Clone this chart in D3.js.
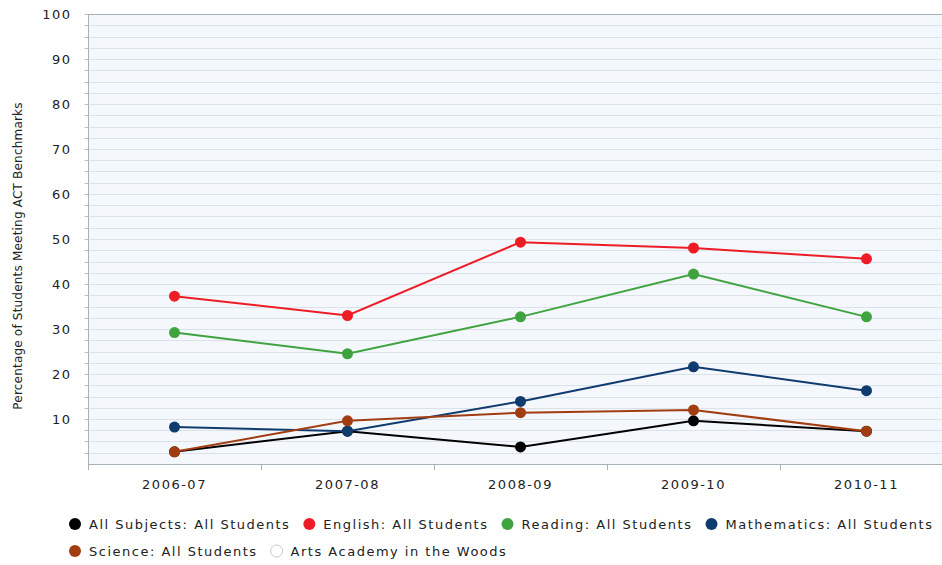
<!DOCTYPE html>
<html>
<head>
<meta charset="utf-8">
<script src="https://cdn.jsdelivr.net/npm/d3@7/dist/d3.min.js"></script>
<style>
  html, body { margin: 0; padding: 0; background: #ffffff; }
  svg { display: block; font-family: "DejaVu Sans", Verdana, sans-serif; }
</style>
</head>
<body>
<svg id="chart" width="942" height="565"></svg>
<script>
// School years on the x axis
const years = ["2006-07", "2007-08", "2008-09", "2009-10", "2010-11"];

// Percentage of students meeting ACT benchmarks, per subject
const allSubjects = [2.7, 7.3, 3.8, 9.6, 7.3];
const english     = [37.3, 33.0, 49.3, 48.0, 45.6];
const reading     = [29.2, 24.5, 32.7, 42.2, 32.7];
const mathematics = [8.2, 7.3, 13.9, 21.6, 16.3];
const science     = [2.7, 9.6, 11.4, 12.0, 7.3];

const seriesNames  = ["All Subjects: All Students", "English: All Students", "Reading: All Students", "Mathematics: All Students", "Science: All Students"];
const seriesColors = ["#000000", "#ee1c25", "#3fa33f", "#0f3b6e", "#a23d12"];
const seriesValues = [allSubjects, english, reading, mathematics, science];

// Extra legend entry for the school (no data plotted)
const schoolName = "Arts Academy in the Woods";

const yTicks = [10, 20, 30, 40, 50, 60, 70, 80, 90, 100];
const yTitle = "Percentage of Students Meeting ACT Benchmarks";

const svg = d3.select("#chart");
const plot = { left: 88, right: 953, top: 14, bottom: 464 };
const labelSpacing = 1.5;

const x = d3.scaleBand().domain(years).range([plot.left, plot.right]);
const y = d3.scaleLinear().domain([0, 100]).range([plot.bottom, plot.top]);

// plot background
svg.append("rect")
  .attr("x", plot.left).attr("y", plot.top)
  .attr("width", plot.right - plot.left).attr("height", plot.bottom - plot.top)
  .attr("fill", "#f4f8fc");

// horizontal grid every 2.5 points
const gridVals = d3.range(2.5, 100.01, 2.5);
svg.append("g").selectAll("line").data(gridVals).join("line")
  .attr("x1", plot.left).attr("x2", plot.right)
  .attr("y1", d => Math.round(y(d)) + 0.5).attr("y2", d => Math.round(y(d)) + 0.5)
  .attr("stroke", d => d === 100 ? "#a9b1b8" : "#dbe2e9").attr("stroke-width", 1);

// left axis with minor ticks
const yAxis = svg.append("g").attr("transform", `translate(${plot.left + 0.5},0)`);
yAxis.append("line").attr("y1", plot.top).attr("y2", plot.bottom + 6)
  .attr("stroke", "#a9b1b8");
yAxis.selectAll("line.tk").data(gridVals).join("line").attr("class", "tk")
  .attr("x1", -4).attr("x2", 0)
  .attr("y1", d => Math.round(y(d)) + 0.5).attr("y2", d => Math.round(y(d)) + 0.5)
  .attr("stroke", "#b8c0c7");
yAxis.selectAll("text").data(yTicks).join("text")
  .attr("x", -17).attr("y", d => y(d))
  .attr("dy", "0.35em").attr("text-anchor", "end")
  .attr("font-size", 13).attr("fill", "#222")
  .attr("letter-spacing", labelSpacing)
  .text(d => d);

// bottom axis
const xAxis = d3.axisBottom(x).tickSize(0).tickPadding(16);
const gx = svg.append("g").attr("transform", `translate(0,${plot.bottom})`).call(xAxis);
gx.select(".domain").attr("stroke", "#a9b1b8").attr("d", `M${plot.left},0.5H${plot.right}`);
gx.selectAll("text").attr("font-size", 13).attr("fill", "#222")
  .attr("letter-spacing", labelSpacing)
  .attr("font-family", "\"DejaVu Sans\", Verdana, sans-serif");
// ticks at band boundaries
const bounds = years.map(d => x(d)).concat([x(years[years.length - 1]) + x.bandwidth()]);
svg.append("g").selectAll("line").data(bounds).join("line")
  .attr("x1", d => Math.round(d) + 0.5).attr("x2", d => Math.round(d) + 0.5)
  .attr("y1", plot.bottom).attr("y2", plot.bottom + 6)
  .attr("stroke", "#a9b1b8");

// y title
svg.append("text")
  .attr("transform", `translate(22,${(plot.top + plot.bottom) / 2 + 17}) rotate(-90)`)
  .attr("text-anchor", "middle").attr("font-size", 12).attr("fill", "#222")
  .attr("letter-spacing", 0.2)
  .text(yTitle);

// series lines and markers
const cx = d => x(d) + x.bandwidth() / 2;
const line = d3.line().x((v, i) => cx(years[i])).y(v => y(v));
seriesValues.forEach((vals, si) => {
  const g = svg.append("g");
  g.append("path").datum(vals).attr("d", line)
    .attr("fill", "none").attr("stroke", seriesColors[si]).attr("stroke-width", 2);
  g.selectAll("circle").data(vals).join("circle")
    .attr("cx", (v, i) => cx(years[i])).attr("cy", v => y(v)).attr("r", 5.5)
    .attr("fill", seriesColors[si]);
});

// legend (flow layout)
const legendItems = seriesNames.map((n, i) => ({ name: n, color: seriesColors[i] }))
  .concat([{ name: schoolName, color: null }]);
const legend = svg.append("g");
let lx = 75, ly = 524;
const rowH = 27, maxX = 940;
legendItems.forEach(it => {
  const g = legend.append("g");
  const t = g.append("text").attr("x", 14).attr("y", 0).attr("dy", "0.35em")
    .attr("font-size", 13).attr("fill", "#222")
    .attr("letter-spacing", labelSpacing).text(it.name);
  const w = t.node().getComputedTextLength();
  if (lx + 14 + w > maxX) { lx = 75; ly += rowH; }
  g.attr("transform", `translate(${lx},${ly})`);
  g.append("circle").attr("r", 6)
    .attr("fill", it.color || "#ffffff")
    .attr("stroke", it.color ? "none" : "#c8c8c8").attr("stroke-width", 1);
  lx += 14 + w + 19;
});
</script>
</body>
</html>
